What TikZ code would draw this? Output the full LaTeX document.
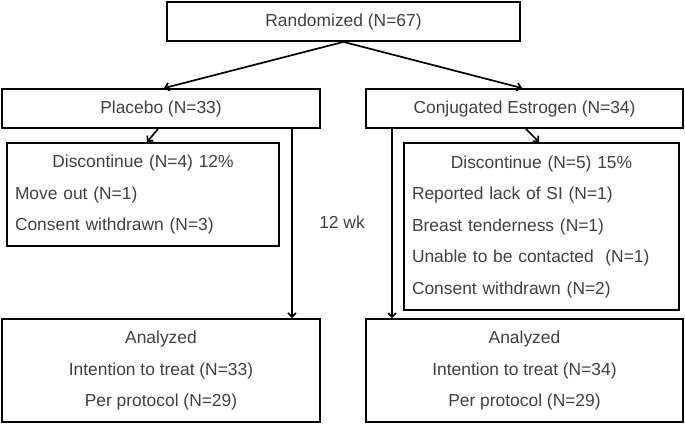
\documentclass[tikz,border=0pt]{standalone}
\usepackage{fontspec}
\setmainfont{Liberation Sans}
\usetikzlibrary{arrows.meta}
\setlength{\parindent}{0pt}

\tikzset{
  box/.style={draw=black,line width=1.8pt,text=black!75,font=\fontsize{17.4}{31.5}\selectfont,inner sep=0pt,align=center},
  listbox/.style={box,inner xsep=8pt,align=left},
  arr/.style={line width=1.7pt,-{Straight Barb[length=4pt,width=8pt]}}
}

\begin{document}
\begin{tikzpicture}[x=1pt,y=-1pt]
    \useasboundingbox (0,0) rectangle (685,424);
    %top and arms
    \node[box,minimum width=353pt,minimum height=39pt] (rand) at (343.5,21.5) {Randomized (N=67)};
    \node[box,minimum width=318pt,minimum height=39pt] (placebo) at (161,108.5) {Placebo (N=33)};
    \node[box,minimum width=317pt,minimum height=39pt] (estro) at (524.5,108.5) {Conjugated Estrogen (N=34)};
    %discontinue
    \node[listbox,text width=256pt,minimum height=103pt] (discL) at (143,194.5) {{\centering Discontinue (N=4) 12\%\par}Move out (N=1)\par Consent withdrawn (N=3)};
    \node[listbox,text width=259pt,minimum height=167pt] (discR) at (541.5,226.5) {{\centering Discontinue (N=5) 15\%\par}Reported lack of SI (N=1)\par Breast tenderness (N=1)\par Unable to be contacted~ (N=1)\par Consent withdrawn (N=2)};
    \node[text=black!75,font=\fontsize{17.4}{20}\selectfont] (wk) at (342,222) {12 wk};
    %analyzed
    \node[box,minimum width=318pt,minimum height=103pt] (anaL) at (161,370.5) {Analyzed\\Intention to treat (N=33)\\Per protocol (N=29)};
    \node[box,minimum width=317pt,minimum height=103pt] (anaR) at (524.5,370.5) {Analyzed\\Intention to treat (N=34)\\Per protocol (N=29)};
    %arrows
    \draw[arr] (rand.south) -- ([xshift=3pt]placebo.north);
    \draw[arr] (rand.south) -- ([xshift=-2.5pt]estro.north);
    \draw[arr] ([xshift=-3pt]placebo.south) -- ([xshift=4pt]discL.north);
    \draw[arr] ([xshift=1.5pt]estro.south) -- ([xshift=-2.5pt]discR.north);
    \draw[arr] ([xshift=-29pt]placebo.south east) -- ([xshift=-29pt]anaL.north east);
    \draw[arr] ([xshift=27pt]estro.south west) -- ([xshift=27pt]anaR.north west);
\end{tikzpicture}
\end{document}
